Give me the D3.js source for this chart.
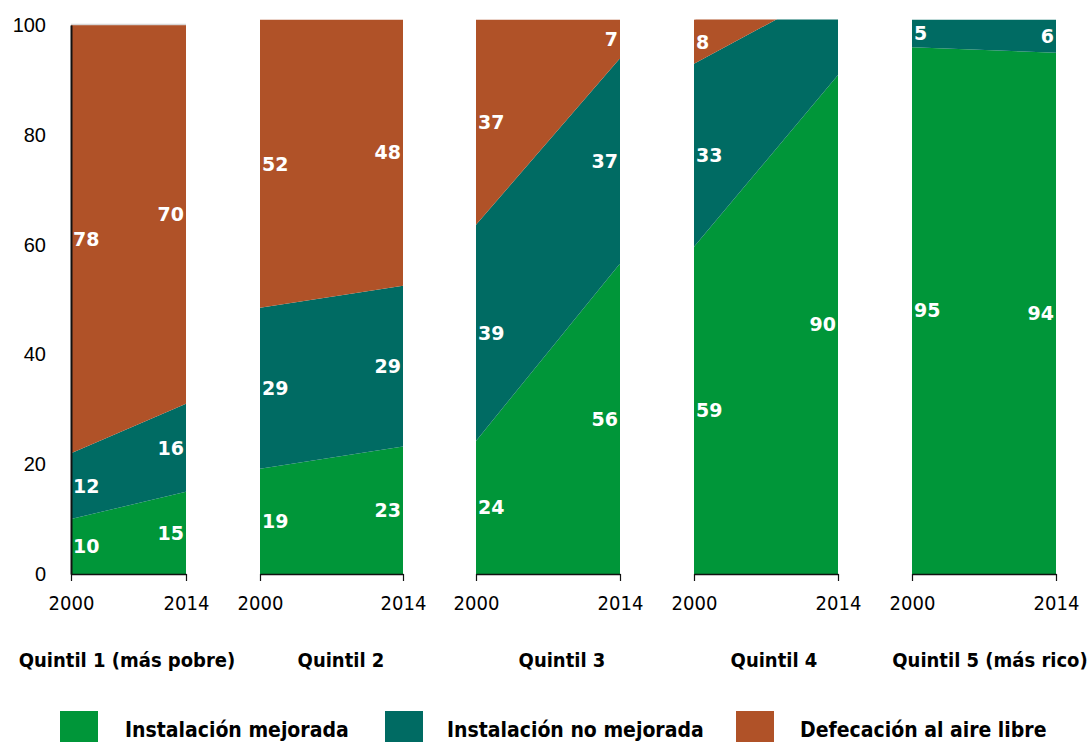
<!DOCTYPE html>
<html>
<head>
<meta charset="utf-8">
<script src="https://cdn.jsdelivr.net/npm/d3@7"></script>
<style>
  html, body { margin: 0; padding: 0; background: #fff; }
  svg { display: block; }
</style>
</head>
<body>
<svg id="chart" width="1092" height="742"></svg>
<script>
// ---- data ----
const quintiles = ["Quintil 1 (más pobre)", "Quintil 2", "Quintil 3", "Quintil 4", "Quintil 5 (más rico)"];
const years = [2000, 2014];
const seriesNames = ["Instalación mejorada", "Instalación no mejorada", "Defecación al aire libre"];
const improved2000   = [10, 19, 24, 59, 95];
const improved2014   = [15, 23, 56, 90, 94];
const unimproved2000 = [12, 29, 39, 33, 5];
const unimproved2014 = [16, 29, 37, 16, 6];
const open2000       = [78, 52, 37, 8, 0];
const open2014       = [70, 48, 7, 0, 0];
const yTicks = [0, 20, 40, 60, 80, 100];

// ---- layout / style ----
const colors = ["#009639", "#006b63", "#b05228"];
const layout = [
  { x0: 71,  x1: 186,  top: 25,   labelX: 127 },
  { x0: 260, x1: 403,  top: 19.5, labelX: 341 },
  { x0: 476, x1: 620,  top: 19.5, labelX: 562 },
  { x0: 694, x1: 838,  top: 19.5, labelX: 774 },
  { x0: 912, x1: 1056, top: 19.5, labelX: 990 }
];
const baseY = 574;
const condensed = "'DejaVu Sans Condensed', 'DejaVu Sans', sans-serif";
const narrow = "'Liberation Sans Narrow', 'DejaVu Sans Condensed', sans-serif";

const svg = d3.select("#chart");
const keys = ["improved", "unimproved", "open"];

quintiles.forEach((q, i) => {
  const L = layout[i];
  const x = d3.scaleLinear().domain([years[0], years[1]]).range([L.x0, L.x1]);
  const y = d3.scaleLinear().domain([0, 100]).range([baseY, L.top]);
  const rows = [
    { year: years[0], improved: improved2000[i], unimproved: unimproved2000[i], open: open2000[i] },
    { year: years[1], improved: improved2014[i], unimproved: unimproved2014[i], open: open2014[i] }
  ];
  const stacked = d3.stack().keys(keys)(rows);

  const clipId = "clip" + i;
  svg.append("clipPath").attr("id", clipId)
    .append("rect").attr("x", L.x0).attr("y", L.top)
    .attr("width", L.x1 - L.x0).attr("height", baseY - L.top);

  const g = svg.append("g");
  const area = d3.area()
    .x(d => x(d.data.year))
    .y0(d => y(d[0]))
    .y1(d => y(d[1]));

  g.append("g").attr("clip-path", `url(#${clipId})`)
    .selectAll("path").data(stacked).join("path")
    .attr("d", area)
    .attr("fill", (d, k) => colors[k]);

  if (i === 0) {
    g.append("line").attr("x1", L.x0).attr("x2", L.x1)
      .attr("y1", L.top - 0.5).attr("y2", L.top - 0.5)
      .attr("stroke", "#d8d8d8").attr("stroke-width", 1.5);
  }

  // value labels
  stacked.forEach((s, k) => {
    s.forEach((d, j) => {
      const v = d[1] - d[0];
      if (v < 4 || d[1] > 102) return;
      const mid = (d[0] + Math.min(d[1], 100)) / 2;
      g.append("text")
        .attr("x", j === 0 ? L.x0 + 2 : L.x1 - 2)
        .attr("y", y(mid))
        .attr("dy", "0.36em")
        .attr("text-anchor", j === 0 ? "start" : "end")
        .attr("font-family", "'DejaVu Sans', sans-serif")
        .attr("font-weight", "bold")
        .attr("font-size", 19)
        .attr("fill", "#fff")
        .text(Math.round(v));
    });
  });

  // x axis
  const xAxis = d3.axisBottom(x).tickValues(years).tickFormat(d3.format("d"))
    .tickSize(7).tickSizeOuter(0).tickPadding(15);
  const ax = svg.append("g").attr("transform", `translate(0,${baseY})`).call(xAxis);
  ax.select(".domain").attr("stroke", "#111").attr("stroke-width", 1.5);
  ax.selectAll(".tick line").attr("stroke", "#111").attr("stroke-width", 1.2);
  ax.selectAll("text")
    .attr("font-family", narrow)
    .attr("font-size", 20).attr("fill", "#000");

  // quintile label
  svg.append("text")
    .attr("x", L.labelX).attr("y", 660).attr("dy", "0.36em")
    .attr("text-anchor", "middle")
    .attr("font-family", condensed)
    .attr("font-weight", "bold").attr("font-size", 20).attr("fill", "#000")
    .text(q);
});

// y axis (panel 1 scale)
const y0 = d3.scaleLinear().domain([0, 100]).range([baseY, layout[0].top]);
const yAxis = d3.axisLeft(y0).tickValues(yTicks).tickSize(0).tickPadding(25);
const ay = svg.append("g").attr("transform", `translate(${layout[0].x0},0)`).call(yAxis);
ay.select(".domain").attr("stroke", "#111").attr("stroke-width", 2);
ay.selectAll("text")
  .attr("font-family", "'Liberation Sans', Arial, sans-serif")
  .attr("font-size", 20).attr("fill", "#000");

// legend
const legendPos = [
  { box: 60,  text: 125 },
  { box: 385, text: 447 },
  { box: 736, text: 800 }
];
seriesNames.forEach((n, k) => {
  const P = legendPos[k];
  svg.append("rect").attr("x", P.box).attr("y", 711).attr("width", 38).attr("height", 34)
    .attr("fill", colors[k]);
  svg.append("text").attr("x", P.text).attr("y", 729).attr("dy", "0.36em")
    .attr("font-family", condensed)
    .attr("font-weight", "bold").attr("font-size", 21).attr("fill", "#000")
    .text(n);
});
</script>
</body>
</html>
